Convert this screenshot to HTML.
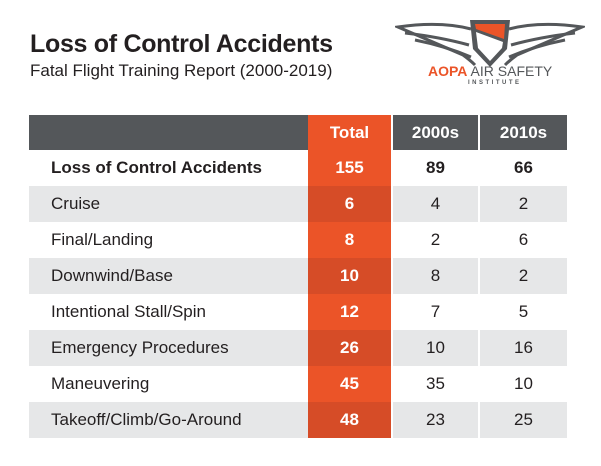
<!DOCTYPE html>
<html><head><style>
body{margin:0;width:601px;height:466px;background:#fff;font-family:"Liberation Sans",sans-serif;position:relative;overflow:hidden}
.t{position:absolute;left:30px;top:30px;font-size:25px;font-weight:bold;color:#231f20;letter-spacing:-0.3px}
.s{position:absolute;left:30px;top:61px;font-size:17px;color:#231f20}
table{position:absolute;left:29px;top:115px;border-collapse:collapse;font-size:17px;color:#231f20}
td{height:36px;padding:0;text-align:center;border-left:2px solid #fff}
td:first-child{text-align:left;padding-left:22px;width:257px;border-left:none}
tr.h td{background:#54575a;color:#fff;font-weight:bold;height:35px}
tr.g td{background:#e6e7e8}
td.o{background:#eb5428!important;color:#fff;font-weight:bold;width:83px;border-left:none}
tr.g td.o{background:#d64c27!important}
tr.b td{font-weight:bold}
</style></head><body>
<div class="t">Loss of Control Accidents</div>
<div class="s">Fatal Flight Training Report (2000-2019)</div>
<svg style="position:absolute;left:395px;top:15px" width="190" height="58">
<g fill="none" stroke="#54575a" stroke-width="3">
<path d="M76 14 Q45 6 3 12 Q40 28 68 40 Q75 45 80 50"/>
<path d="M10 18 Q45 22 74 30"/><path d="M20 25 Q50 31 76 42"/>
<path d="M114 14 Q145 6 187 12 Q150 28 122 40 Q115 45 110 50"/>
<path d="M180 18 Q145 22 116 30"/><path d="M170 25 Q140 31 114 42"/>
</g>
<path d="M75 5 L115 5 L112 34 L95 52 L78 34 Z" fill="#54575a"/>
<path d="M80 9 L110 9 L109 24 L81 14 Z" fill="#eb5428"/>
<path d="M81 17 L108 27 L107 33 L95 46 L83 33 Z" fill="#fff"/>
</svg>
<div style="position:absolute;left:428px;top:63px;font-size:14px;white-space:nowrap"><b style="color:#eb5428">AOPA</b> <span style="color:#54575a">AIR SAFETY</span></div>
<div style="position:absolute;left:468px;top:80px;font-size:6px;letter-spacing:2.5px;font-weight:bold;color:#54575a">INSTITUTE</div>
<table>
<tr class="h"><td></td><td class="o">Total</td><td style="width:85px">2000s</td><td style="width:87px">2010s</td></tr>
<tr class="b"><td>Loss of Control Accidents</td><td class="o">155</td><td>89</td><td>66</td></tr>
<tr class="g"><td>Cruise</td><td class="o">6</td><td>4</td><td>2</td></tr>
<tr><td>Final/Landing</td><td class="o">8</td><td>2</td><td>6</td></tr>
<tr class="g"><td>Downwind/Base</td><td class="o">10</td><td>8</td><td>2</td></tr>
<tr><td>Intentional Stall/Spin</td><td class="o">12</td><td>7</td><td>5</td></tr>
<tr class="g"><td>Emergency Procedures</td><td class="o">26</td><td>10</td><td>16</td></tr>
<tr><td>Maneuvering</td><td class="o">45</td><td>35</td><td>10</td></tr>
<tr class="g"><td>Takeoff/Climb/Go-Around</td><td class="o">48</td><td>23</td><td>25</td></tr>
</table>
</body></html>
